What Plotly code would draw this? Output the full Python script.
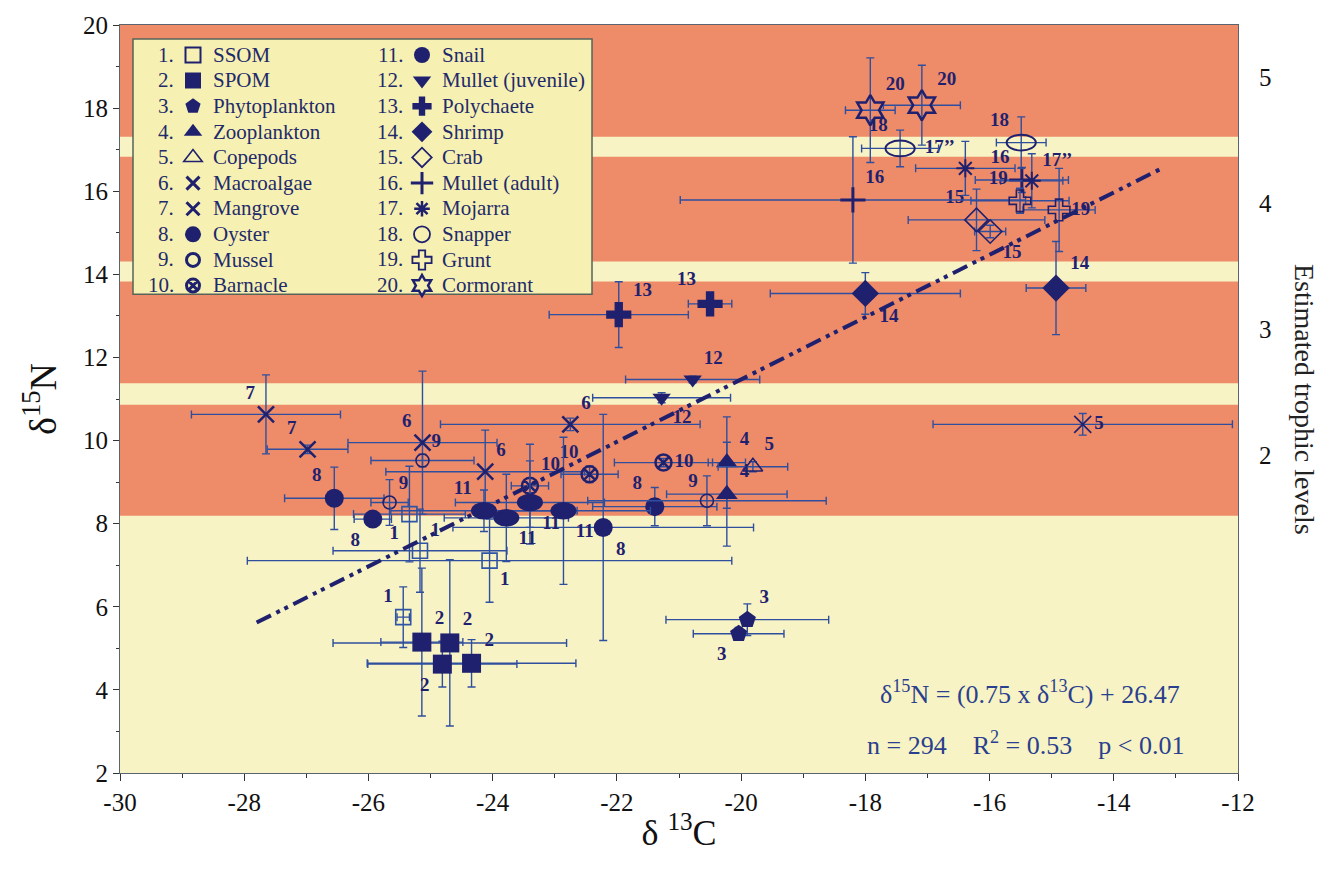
import plotly.graph_objects as go

# ---------------- data ----------------
categories = ["SSOM", "SPOM", "Phytoplankton", "Zooplankton", "Copepods",
              "Macroalgae", "Mangrove", "Oyster", "Mussel", "Barnacle",
              "Snail", "Mullet (juvenile)", "Polychaete", "Shrimp", "Crab",
              "Mullet (adult)", "Mojarra", "Snapper", "Grunt", "Cormorant"]
point_labels = ["1", "2", "3", "4", "5", "6", "7", "8", "9", "10",
                "11", "12", "13", "14", "15", "16", "17\u2019\u2019", "18", "19", "20"]

x_tick_vals = [-30, -28, -26, -24, -22, -20, -18, -16, -14, -12]
x_tick_text = ["-30", "-28", "-26", "-24", "-22", "-20", "-18", "-16", "-14", "-12"]

ssom_c13 = [-25.34, -25.17, -24.05, -25.44]
ssom_n15 = [8.23, 7.35, 7.11, 5.75]
ssom_sdc = [0.9, 1.4, 3.9, 0.1]
ssom_sdn = [1.15, 1.0, 1.0, 0.73]

spom_c13 = [-25.14, -24.69, -24.81, -24.34]
spom_n15 = [5.15, 5.13, 4.62, 4.64]
spom_sdc = [0.66, 1.88, 1.2, 1.68]
spom_sdn = [1.78, 2.0, 0.55, 0.57]

phyto_c13 = [-19.9, -20.04]
phyto_n15 = [5.69, 5.35]
phyto_sdc = [1.31, 0.73]
phyto_sdn = [0.38, 0.15]

zoo_c13 = [-20.23, -20.23]
zoo_n15 = [9.47, 8.71]
zoo_sdc = [0.3, 0.97]
zoo_sdn = [1.1, 1.25]

cope_c13 = [-19.81, -14.5]
cope_n15 = [9.37, 10.39]
cope_sdc = [0.56, 2.41]
cope_sdn = [0.12, 0.26]

macro_c13 = [-25.13, -24.12, -22.75]
macro_n15 = [9.95, 9.25, 10.39]
macro_sdc = [1.2, 1.6, 2.09]
macro_sdn = [1.72, 1.0, 0.15]

mang_c13 = [-27.65, -26.98]
mang_n15 = [10.63, 9.79]
mang_sdc = [1.2, 0.65]
mang_sdn = [0.95, 0.1]

oyster_c13 = [-26.55, -25.93, -21.39, -22.22]
oyster_n15 = [8.61, 8.11, 8.41, 7.91]
oyster_sdc = [0.8, 0.3, 1.0, 2.42]
oyster_sdn = [0.75, 0.15, 0.46, 2.72]

mussel_c13 = [-25.13, -25.66, -20.55]
mussel_n15 = [9.52, 8.51, 8.55]
mussel_sdc = [0.83, 0.3, 1.92]
mussel_sdn = [0.15, 0.55, 0.6]

barn_c13 = [-22.44, -21.25, -23.4]
barn_n15 = [9.19, 9.47, 8.91]
barn_sdc = [0.46, 0.79, 0.3]
barn_sdn = [0.2, 0.1, 1.0]

snail_c13 = [-24.14, -23.78, -23.4, -22.86]
snail_n15 = [8.31, 8.14, 8.51, 8.31]
snail_sdc = [1.5, 1.0, 1.2, 1.4]
snail_sdn = [0.5, 1.05, 1.0, 1.77]

mulj_c13 = [-20.78, -21.28]
mulj_n15 = [11.47, 11.03]
mulj_sdc = [1.08, 1.11]
mulj_sdn = [0.08, 0.12]

poly_c13 = [-21.97, -20.5]
poly_n15 = [13.03, 13.29]
poly_sdc = [1.12, 0.35]
poly_sdn = [0.79, 0.1]

shrimp_c13 = [-14.93, -18.0]
shrimp_n15 = [13.67, 13.54]
shrimp_sdc = [0.48, 1.53]
shrimp_sdn = [1.12, 0.5]

crab_c13 = [-16.21, -15.99]
crab_n15 = [15.31, 15.03]
crab_sdc = [1.1, 0.25]
crab_sdn = [0.74, 0.15]

mula_c13 = [-18.2, -15.48]
mula_n15 = [15.79, 16.27]
mula_sdc = [2.78, 0.75]
mula_sdn = [1.52, 0.3]

moj_c13 = [-16.39, -15.32]
moj_n15 = [16.55, 16.25]
moj_sdc = [0.8, 0.5]
moj_sdn = [0.65, 0.65]

snap_c13 = [-17.44, -15.49]
snap_n15 = [17.03, 17.17]
snap_sdc = [0.62, 0.4]
snap_sdn = [0.44, 0.62]

grunt_c13 = [-15.51, -14.88]
grunt_n15 = [15.77, 15.55]
grunt_sdc = [0.79, 0.58]
grunt_sdn = [0.3, 1.0]

corm_c13 = [-17.92, -17.09]
corm_n15 = [17.95, 18.07]
corm_sdc = [0.4, 0.62]
corm_sdn = [1.26, 0.96]

# regression: d15N = 0.75 * d13C + 26.47
reg_slope = 0.75
reg_intercept = 26.47
reg_c13 = [-27.8, -13.25]

# trophic level band edges (d15N)
orange_bands = [(17.31, 20.0), (14.31, 16.83), (11.38, 13.83), (8.19, 10.86)]
tl_ticks = [2, 3, 4, 5]
tl2_n15 = 9.65      # d15N at trophic level 2
tl_step = 3.03      # d15N per trophic level

# ---------------- style ----------------
NAVY = "#1F216E"
BLUE = "#2E55A6"
EBC = "#2F4F9E"
FONT = "Liberation Serif"
ORANGE = "#EE8B69"
LIGHT = "#F7F3C4"
LEG_TXT = "#1F2A6B"

series = [
    (ssom_c13, ssom_n15, ssom_sdc, ssom_sdn),
    (spom_c13, spom_n15, spom_sdc, spom_sdn),
    (phyto_c13, phyto_n15, phyto_sdc, phyto_sdn),
    (zoo_c13, zoo_n15, zoo_sdc, zoo_sdn),
    (cope_c13, cope_n15, cope_sdc, cope_sdn),
    (macro_c13, macro_n15, macro_sdc, macro_sdn),
    (mang_c13, mang_n15, mang_sdc, mang_sdn),
    (oyster_c13, oyster_n15, oyster_sdc, oyster_sdn),
    (mussel_c13, mussel_n15, mussel_sdc, mussel_sdn),
    (barn_c13, barn_n15, barn_sdc, barn_sdn),
    (snail_c13, snail_n15, snail_sdc, snail_sdn),
    (mulj_c13, mulj_n15, mulj_sdc, mulj_sdn),
    (poly_c13, poly_n15, poly_sdc, poly_sdn),
    (shrimp_c13, shrimp_n15, shrimp_sdc, shrimp_sdn),
    (crab_c13, crab_n15, crab_sdc, crab_sdn),
    (mula_c13, mula_n15, mula_sdc, mula_sdn),
    (moj_c13, moj_n15, moj_sdc, moj_sdn),
    (snap_c13, snap_n15, snap_sdc, snap_sdn),
    (grunt_c13, grunt_n15, grunt_sdc, grunt_sdn),
    (corm_c13, corm_n15, corm_sdc, corm_sdn),
]

# (symbol, size, line width, color) for plot markers
marker_style = [
    ("square-open", 15, 1.6, BLUE),
    ("square", 19, 0, NAVY),
    ("pentagon", 18, 0, NAVY),
    ("triangle-up", 19, 0, NAVY),
    ("triangle-up-open", 17, 1.6, NAVY),
    ("x-thin", 16, 2.5, NAVY),
    ("x-thin", 16, 2.5, NAVY),
    ("circle", 19, 0, NAVY),
    ("circle-open", 13, 1.6, NAVY),
    ("circle-x-open", 16, 2.5, NAVY),
    ("circle", 18, 0, "rgba(0,0,0,0)"),
    ("triangle-down", 16, 0, NAVY),
    ("cross", 21, 0, NAVY),
    ("diamond", 21, 0, NAVY),
    ("diamond-open", 18, 1.6, NAVY),
    ("cross-thin", 18, 3, NAVY),
    ("asterisk-open", 15, 2, NAVY),
    ("circle", 18, 0, "rgba(0,0,0,0)"),
    ("cross-open", 18, 1.6, NAVY),
    ("hexagram-open", 23, 2.5, NAVY),
]
# legend key markers
legend_style = [
    ("square-open", 15, 2), ("square", 16, 0), ("pentagon", 16, 0),
    ("triangle-up", 16, 0), ("triangle-up-open", 16, 1.6), ("x-thin", 13, 3),
    ("x-thin", 13, 3), ("circle", 16, 0), ("circle-open", 13, 3),
    ("circle-x-open", 13, 3), ("circle", 16, 0), ("triangle-down", 16, 0),
    ("cross", 16, 0), ("diamond", 16, 0), ("diamond-open", 15, 1.8),
    ("cross-thin", 16, 3), ("asterisk-open", 13, 2.5), ("circle-open", 16, 1.8),
    ("cross-open", 16, 1.8), ("hexagram-open", 16, 2.5),
]
per_point_symbol = {4: ["triangle-up-open", "x-thin"]}
label_pos = [
    ["bottom left", "top right", "bottom right", "top left"],
    ["top right", "top right", "bottom left", "top right"],
    ["top right", "bottom left"],
    ["top right", "top right"],
    ["top right", "middle right"],
    ["top left", "top right", "top right"],
    ["top left", "top left"],
    ["top left", "bottom left", "top left", "bottom right"],
    ["top right", "top right", "top left"],
    ["top left", "middle right", "top right"],
    ["top left", "bottom right", "bottom right", "bottom right"],
    ["top right", "bottom right"],
    ["top right", "top left"],
    ["top right", "bottom right"],
    ["top left", "bottom right"],
    ["top right", "top left"],
    ["top left", "top right"],
    ["top left", "top left"],
    ["top left", "middle right"],
    ["top right", "top right"],
]

fig = go.Figure()

# data traces
for i, (xs, ys, exs, eys) in enumerate(series):
    sym, size, lw, col = marker_style[i]
    symbols = per_point_symbol.get(i, sym)
    fig.add_trace(go.Scatter(
        x=xs, y=ys, mode="markers+text",
        text=["<b>" + point_labels[i] + "</b>"] * len(xs),
        textposition=label_pos[i],
        textfont=dict(family=FONT, size=19, color=NAVY),
        marker=dict(symbol=symbols, size=size, color=col,
                    line=dict(width=lw, color=col)),
        error_x=dict(type="data", array=exs, color=EBC, thickness=1.4, width=4),
        error_y=dict(type="data", array=eys, color=EBC, thickness=1.4, width=4),
        showlegend=False, name=categories[i], cliponaxis=False,
    ))

# regression line
fig.add_trace(go.Scatter(
    x=reg_c13, y=[reg_slope * c + reg_intercept for c in reg_c13],
    mode="lines", line=dict(color=NAVY, width=4, dash="16px,6px,4px,5px,4px,6px"),
    showlegend=False, hoverinfo="skip"))

# legend-key traces
for i, name in enumerate(categories):
    sym, size, lw = legend_style[i]
    fig.add_trace(go.Scatter(
        x=[None], y=[None], mode="markers",
        name='<span style="font-size:21px">' + name + "</span>",
        marker=dict(symbol=sym, size=size, color=NAVY, line=dict(width=lw, color=NAVY)),
        legend="legend" if i < 10 else "legend2"))

# invisible trace on the trophic-level axis
fig.add_trace(go.Scatter(x=[None], y=[None], yaxis="y2", showlegend=False, hoverinfo="skip"))

# ---------------- shapes ----------------
shapes = []
for lo, hi in orange_bands:
    shapes.append(dict(type="rect", xref="x", yref="y", x0=-30, x1=-12, y0=lo, y1=hi,
                       fillcolor=ORANGE, line=dict(width=0), layer="below"))
SNAIL_W, SNAIL_H = 0.42, 0.42
for c, n in zip(snail_c13, snail_n15):
    shapes.append(dict(type="circle", xref="x", yref="y",
                       x0=c - SNAIL_W / 2, x1=c + SNAIL_W / 2,
                       y0=n - SNAIL_H / 2, y1=n + SNAIL_H / 2,
                       fillcolor=NAVY, line=dict(width=0), layer="above"))
SNAP_W, SNAP_H = 0.47, 0.38
for c, n in zip(snap_c13, snap_n15):
    shapes.append(dict(type="circle", xref="x", yref="y",
                       x0=c - SNAP_W / 2, x1=c + SNAP_W / 2,
                       y0=n - SNAP_H / 2, y1=n + SNAP_H / 2,
                       fillcolor="rgba(0,0,0,0)", line=dict(width=2, color=NAVY), layer="above"))

# legend box
L, T, PW, PH = 120, 23, 1118, 750
def px_x(p):
    return (p - L) / PW
def px_y(p):
    return 1 - (p - T) / PH

shapes.append(dict(type="rect", xref="paper", yref="paper",
                   x0=px_x(133), x1=px_x(592), y0=px_y(293), y1=px_y(37),
                   fillcolor="#F6F1B2", line=dict(width=1.5, color="#56645A"), layer="above"))

# ---------------- annotations ----------------
ann = []
ROW0, ROWH = 53, 25.62
for i in range(20):
    col = i // 10
    row = i % 10
    ann.append(dict(xref="paper", yref="paper",
                    x=px_x(176 if col == 0 else 405), y=px_y(ROW0 + row * ROWH),
                    xanchor="right", yanchor="middle", showarrow=False,
                    text=f"{i + 1}.", font=dict(family=FONT, size=21, color=LEG_TXT)))

EQC = "#2A3F8E"
ann.append(dict(xref="paper", yref="paper", x=px_x(1030), y=px_y(692),
                xanchor="center", yanchor="middle", showarrow=False,
                text="\u03b4<sup>15</sup>N = (0.75 x \u03b4<sup>13</sup>C) + 26.47",
                font=dict(family=FONT, size=26, color=EQC)))
ann.append(dict(xref="paper", yref="paper", x=px_x(1025), y=px_y(743),
                xanchor="center", yanchor="middle", showarrow=False,
                text="n = 294\u00a0\u00a0\u00a0\u00a0R<sup>2</sup> = 0.53\u00a0\u00a0\u00a0\u00a0p < 0.01",
                font=dict(family=FONT, size=26, color=EQC)))
ann.append(dict(xref="paper", yref="paper", x=px_x(1305), y=0.5,
                xanchor="center", yanchor="middle", showarrow=False, textangle=90,
                text="Estimated trophic levels", font=dict(family=FONT, size=28, color="#222")))

tick_font = dict(family=FONT, size=25, color="#111")
legend_common = dict(xanchor="left", yanchor="top", bgcolor="rgba(0,0,0,0)",
                     borderwidth=0, tracegroupgap=0, itemwidth=30,
                     font=dict(family=FONT, size=17.4, color=LEG_TXT))

fig.update_layout(
    width=1338, height=870,
    margin=dict(l=L, r=1338 - L - PW, t=T, b=870 - T - PH),
    paper_bgcolor="white", plot_bgcolor=LIGHT,
    shapes=shapes, annotations=ann,
    legend=dict(x=px_x(173), y=px_y(35.2), **legend_common),
    legend2=dict(x=px_x(402), y=px_y(35.2), **legend_common),
    xaxis=dict(range=[-30, -12], tickvals=x_tick_vals, ticktext=x_tick_text,
               ticks="outside", ticklen=7,
               tickcolor="#333", showline=True, linecolor="#5A6470", linewidth=1.2,
               mirror=True, showgrid=False, zeroline=False, tickfont=tick_font,
               minor=dict(dtick=1, ticks="outside", ticklen=4, tickcolor="#333"),
               title=dict(text="\u03b4 <sup>13</sup>C", font=dict(family=FONT, size=36, color="#111"),
                          standoff=4)),
    yaxis=dict(range=[2, 20], tick0=2, dtick=2, ticks="outside", ticklen=6,
               tickcolor="#333", showline=True, linecolor="#5A6470", linewidth=1.2,
               mirror=True, showgrid=False, zeroline=False, tickfont=tick_font,
               minor=dict(dtick=1, ticks="outside", ticklen=3, tickcolor="#333"),
               title=dict(text="\u03b4<sup>15</sup>N", font=dict(family=FONT, size=38, color="#111"),
                          standoff=14)),
    yaxis2=dict(overlaying="y", side="right", anchor="x",
                range=[2 + (2 - tl2_n15) / tl_step, 2 + (20 - tl2_n15) / tl_step],
                tickvals=tl_ticks, ticks="", showgrid=False, zeroline=False,
                showline=False, tickfont=tick_font, ticklabelstandoff=20),
)

fig.write_html("out.html")
